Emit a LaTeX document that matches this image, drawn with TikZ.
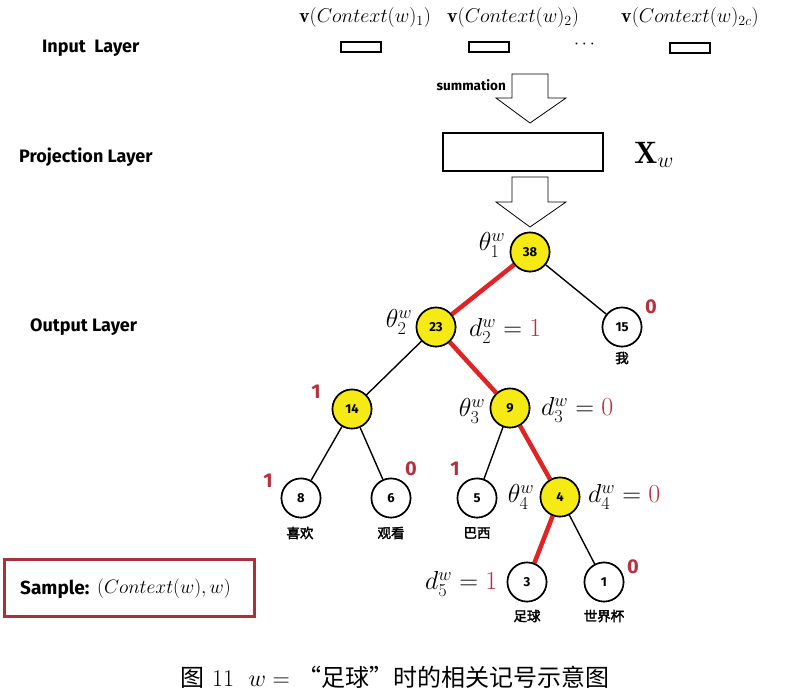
\documentclass[tikz,border=0pt]{standalone}
\usepackage{fix-cm}
\usepackage{fontspec}
\usepackage{amsmath}
\setsansfont{Fira Sans}
\newfontfamily\cjk{Noto Sans CJK SC}[AutoFakeBold=2.5]
\newfontfamily\cjkcap{Noto Sans CJK SC}
\usetikzlibrary{calc}
\definecolor{pathred}{HTML}{E02424}
\definecolor{numred}{HTML}{B83040}
\definecolor{boxred}{HTML}{A8323C}
\definecolor{nodeyel}{HTML}{F5EA14}
\begin{document}
\begin{tikzpicture}[x=1pt,y=-1pt,
  layer/.style={font=\sffamily\bfseries\fontsize{18}{21}\selectfont, anchor=west, inner sep=0pt},
  vlab/.style={font=\fontsize{20}{24}\selectfont},
  inbox/.style={draw, line width=2.2pt, minimum width=40pt, minimum height=10pt, inner sep=0pt},
  tnode/.style={circle, draw, line width=1.6pt, minimum size=39pt, inner sep=0pt, fill=white, font=\sffamily\bfseries\fontsize{13}{15}\selectfont},
  ynode/.style={tnode, fill=nodeyel},
  word/.style={font=\cjk\bfseries\fontsize{13.5}{15}\selectfont},
  bit/.style={font=\sffamily\bfseries\fontsize{20}{24}\selectfont, text=numred},
  mlab/.style={font=\fontsize{26}{30}\selectfont},
  edge/.style={line width=1.4pt},
  redge/.style={line width=4.5pt, pathred},
  blockarrow/.style={draw, line width=0.8pt, fill=white}
]
\useasboundingbox (0,0) rectangle (805,691);

% Input layer
\node[layer] (inl) at (42,48) {Input\ \ Layer};
\node[vlab] (v1) at (365,17) {$\mathbf{v}(Context(w)_1)$};
\node[vlab] (v2) at (513,17) {$\mathbf{v}(Context(w)_2)$};
\node[vlab] (v3) at (690,17) {$\mathbf{v}(Context(w)_{2c})$};
\node[inbox] (b1) at (361,47) {};
\node[inbox] (b2) at (489,47) {};
\node[inbox] (b3) at (690,48) {};
\node[font=\fontsize{18}{20}\selectfont] (dots) at (586,44) {$\cdots$};

% summation arrow
\draw[blockarrow] (512,74) -- (548,74) -- (548,98) -- (566,98) -- (530,123) -- (496,98) -- (512,98) -- cycle;
\node[font=\sffamily\bfseries\fontsize{13.5}{15}\selectfont, anchor=east, inner sep=0pt] (sum) at (506,85) {summation};

% Projection layer
\node[layer] (pl) at (19,157) {Projection\ Layer};
\node[draw, line width=2.6pt, minimum width=160pt, minimum height=38pt, inner sep=0pt] (proj) at (523,152) {};
\node[font=\fontsize{31}{34}\selectfont] (xw) at (654,155) {$\mathbf{X}_w$};
\draw[blockarrow] (512,177) -- (548,177) -- (548,202) -- (566,202) -- (530,227) -- (496,202) -- (512,202) -- cycle;

% Output layer
\node[layer] (ol) at (30,327) {Output Layer};

% tree
\node[ynode] (n38) at (530,252) {38};
\node[ynode] (n23) at (436,327) {23};
\node[tnode] (n15) at (622,327) {15};
\node[ynode] (n14) at (352,409) {14};
\node[ynode] (n9)  at (510,408) {9};
\node[tnode] (n8)  at (301,498) {8};
\node[tnode] (n6)  at (391,498) {6};
\node[tnode] (n5)  at (477,498) {5};
\node[ynode] (n4)  at (560,497) {4};
\node[tnode] (n3)  at (527,582) {3};
\node[tnode] (n1)  at (604,582) {1};

\draw[redge] (n38) -- (n23);
\draw[edge] (n38) -- (n15);
\draw[edge] (n23) -- (n14);
\draw[redge] (n23) -- (n9);
\draw[edge] (n14) -- (n8);
\draw[edge] (n14) -- (n6);
\draw[edge] (n9) -- (n5);
\draw[redge] (n9) -- (n4);
\draw[redge] (n4) -- (n3);
\draw[edge] (n4) -- (n1);

% redraw nodes over edges
\foreach \n/\t/\s in {n38/38/ynode,n23/23/ynode,n15/15/tnode,n14/14/ynode,n9/9/ynode,n8/8/tnode,n6/6/tnode,n5/5/tnode,n4/4/ynode,n3/3/tnode,n1/1/tnode}
  \node[\s] at (\n) {\t};

% words
\node[word] (w15) at (622,358) {我};
\node[word] (w8)  at (300,533) {喜欢};
\node[word] (w6)  at (391,533) {观看};
\node[word] (w5)  at (477,533) {巴西};
\node[word] (w3)  at (527,616) {足球};
\node[word] (w1)  at (604,616) {世界杯};

% bits
\node[bit] (c15) at (651,307) {0};
\node[bit] (c14) at (316,392) {1};
\node[bit] (c8)  at (268,481) {1};
\node[bit] (c6)  at (411,469) {0};
\node[bit] (c5)  at (455,469) {1};
\node[bit] (c1)  at (633,567) {0};

% math labels
\node[mlab] (t1) at (492,245) {$\theta_1^w$};
\node[mlab] (t2) at (399,322) {$\theta_2^w$};
\node[mlab] (t3) at (472,411) {$\theta_3^w$};
\node[mlab] (t4) at (521,497) {$\theta_4^w$};
\node[mlab, anchor=west, inner sep=0pt] (d2) at (469,331) {$d_2^w = \textcolor{numred}{1}$};
\node[mlab, anchor=west, inner sep=0pt] (d3) at (541,410) {$d_3^w = \textcolor{numred}{0}$};
\node[mlab, anchor=west, inner sep=0pt] (d4) at (588,497) {$d_4^w = \textcolor{numred}{0}$};
\node[mlab, anchor=west, inner sep=0pt] (d5) at (425,584) {$d_5^w = \textcolor{numred}{1}$};

% sample box
\node[draw=boxred, line width=3pt, minimum width=250pt, minimum height=57pt, inner sep=0pt] (sbox) at (129,588) {};
\node[anchor=west, inner sep=0pt, font=\sffamily\bfseries\fontsize{19}{21}\selectfont] (st) at (20,589) {Sample:};
\node[anchor=west, inner sep=0pt, font=\fontsize{19.5}{22}\selectfont] (sm) at (97,589) {$(Context(w),w)$};

% caption
\node[font=\fontsize{24}{28}\selectfont, inner sep=0pt] (cap) at (395,677) {{\cjkcap 图} 11\ \ $w=$ {\cjkcap “足球”时的相关记号示意图}};
\end{tikzpicture}
\end{document}
